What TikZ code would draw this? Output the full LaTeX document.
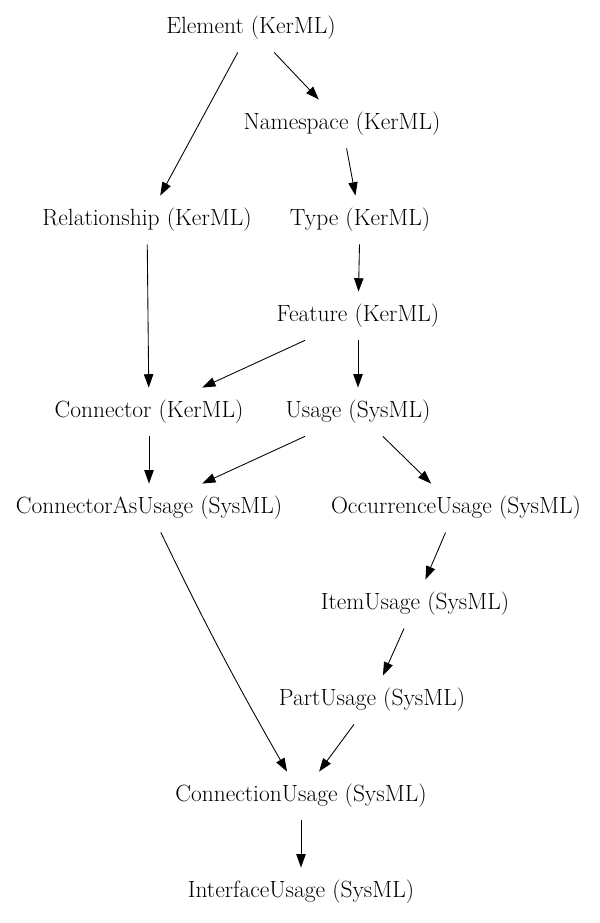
\documentclass[tikz,border=0pt]{standalone}
\usepackage{tikz}
\usetikzlibrary{positioning, arrows.meta}

\begin{document}
\begin{tikzpicture}[>={Triangle[length=10pt,width=7pt]}, node distance=72pt, on grid, line width=0.65pt,
    cls/.style={inner sep=0pt, minimum height=36pt, font=\fontsize{17.6}{21}\selectfont}]
    \useasboundingbox (0,0) rectangle (449.25pt,-692.25pt);
    \node[cls] (el) at (188.25pt,-21pt) {Element (KerML)};
    \node[cls] (ns) [below right=72pt and 68.25pt of el] {Namespace (KerML)};
    \node[cls] (rel) [below left=144pt and 78pt of el] {Relationship (KerML)};
    \node[cls] (ty) [below=of ns, xshift=13.5pt] {Type (KerML)};
    \node[cls] (fe) [below=of ty, xshift=-1.5pt] {Feature (KerML)};
    \node[cls] (con) [below=144pt of rel, xshift=1.5pt] {Connector (KerML)};
    \node[cls] (us) [below=of fe] {Usage (SysML)};
    \node[cls] (cau) [below=of con] {ConnectorAsUsage (SysML)};
    \node[cls] (occ) [below right=72pt and 73.5pt of us] {OccurrenceUsage (SysML)};
    \node[cls] (item) [below left=72pt and 30.75pt of occ] {ItemUsage (SysML)};
    \node[cls] (part) [below left=72pt and 32.25pt of item] {PartUsage (SysML)};
    \node[cls] (conn) [below left=72pt and 53.25pt of part] {ConnectionUsage (SysML)};
    \node[cls] (intf) [below=of conn] {InterfaceUsage (SysML)};

    \path[->]
    (el) edge (rel)
        (el) edge (ns)
    (ns) edge (ty)
    (ty) edge (fe)
    (rel) edge (con)
    (fe) edge (con)
        (fe) edge (us)
    (con) edge (cau)
    (us) edge (cau)
        (us) edge (occ)
    (occ) edge (item)
    (item) edge (part)
    (part) edge (conn)
    (cau) edge[bend right=2] (conn)
    (conn) edge (intf);
\end{tikzpicture}
\end{document}
